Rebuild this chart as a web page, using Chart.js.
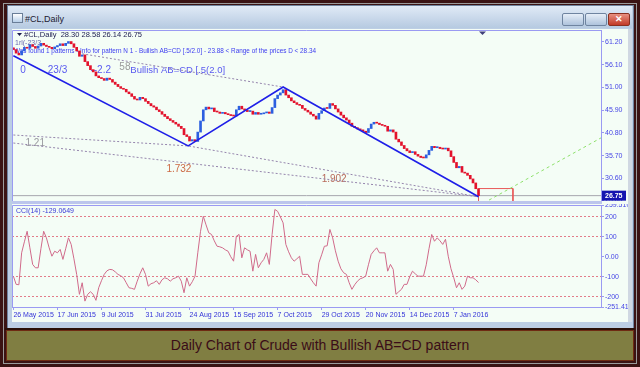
<!DOCTYPE html>
<html>
<head>
<meta charset="utf-8">
<script src="https://cdn.jsdelivr.net/npm/chart.js@4.4.1/dist/chart.umd.min.js"></script>
<style>
  body { margin: 0; width: 640px; height: 367px; background: #3a1313; position: relative; overflow: hidden; font-family: "Liberation Sans", Arial, sans-serif; }
  .abs { position: absolute; }
  #ring { left: 3px; top: 3px; width: 632px; height: 359px; border: 1px solid #9a9a9a; }
  #win { left: 7px; top: 5px; width: 625px; height: 322px; background: #bccee4; border: 1px solid #6f829c; }
  #title { left: 8px; top: 6px; width: 624px; height: 22px; background: linear-gradient(#e0eaf6, #b6cae1); }
  #icon { left: 12px; top: 13px; width: 9px; height: 8px; border: 1px solid #6a7e98; background: linear-gradient(#ffffff, #b8d0ea); }
  #ttl { left: 25px; top: 14px; font-size: 9px; color: #1c2030; }
  .btn { top: 13px; width: 20px; height: 11px; border: 1px solid #6f84a0; border-radius: 2px; background: linear-gradient(#e6eef8, #aec3dc); }
  #bclose { background: linear-gradient(#e89080, #c23a28); border-color: #8a3020; color: #fff; font-size: 9px; font-weight: bold; text-align: center; line-height: 11px; }
  #client { left: 12px; top: 29px; width: 616px; height: 293px; background: #f4fdf6; }
  #sep { left: 12px; top: 201px; width: 590px; height: 3px; background: #bcc6ec; }
  #scroll { left: 628px; top: 29px; width: 4px; height: 293px; background: #d0d8e2; }
  #botline { left: 5px; top: 328px; width: 630px; height: 2px; background: #2a1008; }
  #caption { left: 6px; top: 330px; width: 626px; height: 29px; background: #807e42; border: 1px solid #6e2a12;
             text-align: center; line-height: 29px; font-size: 14px; color: #3a0c18; }
  canvas { position: absolute; }
</style>
</head>
<body>
<div id="ring" class="abs"></div>
<div id="win" class="abs"></div>
<div id="title" class="abs"></div>
<div id="icon" class="abs"></div>
<div id="ttl" class="abs">#CL,Daily</div>
<div class="abs btn" style="left:562px"></div>
<div class="abs btn" style="left:585px"></div>
<div id="bclose" class="abs btn" style="left:608px">✕</div>
<div id="client" class="abs"></div>
<div id="scroll" class="abs"></div>
<canvas id="price" width="616" height="171" style="left:12px;top:30px"></canvas>
<div id="sep" class="abs"></div>
<canvas id="cci" width="616" height="118" style="left:12px;top:204px"></canvas>
<div id="botline" class="abs"></div>
<div id="caption" class="abs">Daily Chart of Crude with Bullish AB=CD pattern</div>

<script>
// dates shown under the CCI panel, one every 16 bars
const dateLabels = ["26 May 2015", "17 Jun 2015", "9 Jul 2015", "31 Jul 2015", "24 Aug 2015", "15 Sep 2015",
  "7 Oct 2015", "29 Oct 2015", "20 Nov 2015", "14 Dec 2015", "7 Jan 2016"];
const dateTickBars = [0, 16, 32, 48, 64, 80, 96, 112, 128, 144, 160];

// daily closes of #CL (last bar = 26.75)
const firstOpen = 59.9;
const closes = [
  59.5, 58.7, 58.3, 59.2, 60.0, 59.8, 60.6, 60.2, 59.8, 60.3,
  60.9, 60.5, 60.2, 60.0, 59.7, 60.1, 60.4, 60.8, 60.4, 60.9,
  61.3, 60.8, 60.0, 59.2, 58.0, 58.3, 56.8, 55.9, 55.0, 54.5,
  53.6, 53.2, 53.0, 52.6, 53.1, 52.8, 52.2, 51.7, 51.2, 50.8,
  50.6, 50.0, 49.6, 49.0, 48.4, 48.2, 48.8, 48.5, 47.9, 47.4,
  46.9, 46.6, 46.0, 45.6, 45.0, 44.5, 44.0, 43.6, 43.2, 42.8,
  42.3, 41.8, 40.4, 40.0, 39.0, 39.3, 38.9, 41.0, 43.5, 46.0,
  46.6, 46.2, 46.4, 45.6, 45.5, 45.2, 45.4, 45.1, 44.9, 44.7,
  44.6, 46.0, 46.8, 46.2, 45.9, 45.6, 45.7, 45.0, 45.4, 45.0,
  45.1, 45.3, 45.5, 45.2, 46.5, 48.5, 49.3, 49.8, 50.5, 49.3,
  48.7, 48.0, 47.6, 47.2, 47.0, 46.3, 45.9, 45.5, 45.0, 44.6,
  43.9, 45.2, 45.8, 46.4, 46.3, 47.4, 47.0, 46.2, 45.5, 44.8,
  44.2, 43.7, 43.0, 42.3, 42.0, 41.7, 41.5, 41.2, 40.9, 41.8,
  42.8, 43.2, 43.0, 42.7, 42.5, 42.3, 41.2, 41.5, 41.0, 39.4,
  38.8, 38.0, 37.3, 36.8, 36.4, 36.6, 36.0, 35.6, 35.3, 35.2,
  35.9, 36.9, 37.8, 37.5, 37.6, 37.3, 37.2, 37.4, 36.8, 35.5,
  34.2, 33.0, 33.3, 32.0, 31.8, 31.3, 30.5, 29.6, 28.3, 26.75
];
const lastOhlc = [28.30, 28.58, 26.14, 26.75];

// CCI(14), one value per bar
const cci = [
  -97, -138, -140, 20, 75, 128, 45, -38, -55, -55,
  40, 128, 95, 45, 3, 28, 20, 37, -13, 40,
  95, 62, -10, -88, -188, -130, -222, -188, -175, -188,
  -218, -155, -120, -88, -70, -63, -65, -75, -88, -95,
  -105, -130, -155, -158, -163, -122, -85, -55, -88, -147,
  -135, -130, -120, -138, -115, -105, -110, -122, -110, -105,
  -97, -122, -180, -105, -147, -125, -97, 20, 128, 203,
  160, 120, 112, 80, 53, 50, 45, 35, 28, 0,
  -22, 103, 112, -5, 45, 35, 28, -72, 12, -55,
  -30, -13, 20, -38, 112, 237, 228, 200, 170, 62,
  25, -5, -22, -10, 3, -88, -88, -88, -110, -130,
  -147, -30, 10, 53, 55, 137, 95, 30, -22, -60,
  -80, -88, -130, -163, -140, -122, -110, -105, -97, -40,
  12, 30, 45, 20, 20, 20, -72, -38, -63, -188,
  -175, -163, -138, -138, -100, -72, -85, -97, -97, -97,
  -40, 40, 112, 78, 95, 80, 62, 88, 3, -60,
  -105, -155, -130, -163, -147, -97, -105, -105, -115, -129.0649
];

const priceTicks = [61.20, 56.10, 51.00, 45.90, 40.80, 35.70, 30.60, 25.65];
const cciTicks = [259.5107, 200, 100, 0, -100, -200, -251.412];
const cciTickText = ["259.5107", "200", "100", "0.00", "-100", "-200", "-251.412"];
const cciLevels = [200, 100, -100, -200];

// AB=CD pattern points (bar, price)
const patternBars = [0, 63.5, 98, 169];
const patternPrices = [58.1, 37.9, 51.1, 26.5];
// dotted ratio lines
const guideABars = [23.6, 98];
const guideAPrices = [58.7, 51.1];
const guideBBars = [0, 63.5, 169];
const guideBPrices = [40.35, 37.9, 26.5];
const guideCBars = [0, 169];
const guideCPrices = [38.55, 26.5];
const projBars = [170.9, 213.5];
const projPrices = [25.1, 39.7];
// range of the prices for D
const dBars = [169, 181.5];
const dRange = [23.88, 28.34];

const opens = [firstOpen].concat(closes.slice(0, -1));
const candles = closes.map((c, i) => ({ x: i, y: [opens[i], c] }));
const candleColors = closes.map((c, i) => (c >= opens[i] ? "#2c5fe0" : "#e3122c"));
const pts = (xs, ys) => xs.map((x, i) => ({ x, y: ys[i] }));
const lastBar = closes.length - 1;

const FONT = '"Liberation Sans", Arial, sans-serif';
const AXIS = "#9a9af2";
const X_MIN = -0.5, X_MAX = 213.5;

const notes = [
  { text: "0", bar: 2.5, price: 54.9, color: "#5a5af0", size: 10 },
  { text: "23/3", bar: 12.5, price: 54.9, color: "#5a5af0", size: 10 },
  { text: "--2.2", bar: 28, price: 54.9, color: "#5a5af0", size: 10 },
  { text: "58", bar: 38.5, price: 55.5, color: "#9a9a9a", size: 10 },
  { text: "Bullish AB=CD [.5(2.0]", bar: 42.5, price: 54.9, color: "#5a5af0", size: 9.5 },
  { text: "1.21", bar: 4.4, price: 38.55, color: "#9a9aa0", size: 10 },
  { text: "1.732", bar: 55.6, price: 32.7, color: "#cc6a44", size: 10 },
  { text: "1.902", bar: 112, price: 30.5, color: "#b86a5a", size: 10 }
];
const patternInfo = "Was found 1 patterns - Info for pattern N 1 - Bullish AB=CD [.5/2.0] - " +
  dRange[0] + " < Range of the prices D < " + dRange[1];

const priceDecor = {
  id: "priceDecor",
  beforeDatasetsDraw(chart) {
    const { ctx, scales: { x, y } } = chart;
    ctx.save();
    ctx.textBaseline = "middle";
    ctx.font = "7px " + FONT;
    ctx.fillStyle = "#3c3cf0";
    ctx.fillText(patternInfo, 2, 21, 302);
    ctx.fillStyle = "#6a6ab0";
    ctx.fillText("1rl(-23/3", 3, 13);
    notes.forEach(n => {
      ctx.font = n.size + "px " + FONT;
      ctx.fillStyle = n.color;
      ctx.fillText(n.text, x.getPixelForValue(n.bar), y.getPixelForValue(n.price));
    });
    ctx.restore();
  },
  afterDraw(chart) {
    const { ctx, chartArea: a, scales: { y } } = chart;
    ctx.save();
    // frame
    ctx.strokeStyle = AXIS;
    ctx.lineWidth = 1;
    ctx.beginPath();
    ctx.moveTo(a.left + 0.5, a.bottom);
    ctx.lineTo(a.left + 0.5, a.top + 0.5);
    ctx.lineTo(a.right, a.top + 0.5);
    ctx.stroke();
    // header
    ctx.fillStyle = "#1a1a4e";
    ctx.beginPath();
    ctx.moveTo(5, 3); ctx.lineTo(10, 3); ctx.lineTo(7.5, 6); ctx.closePath(); ctx.fill();
    ctx.font = "7.5px " + FONT;
    ctx.textBaseline = "middle";
    ctx.fillText("#CL,Daily  " + lastOhlc.map(v => v.toFixed(2)).join(" "), 12, 4.5);
    // shift marker
    ctx.fillStyle = "#40407a";
    ctx.beginPath();
    ctx.moveTo(467, 1.5); ctx.lineTo(474, 1.5); ctx.lineTo(470.5, 5); ctx.closePath(); ctx.fill();
    // bid label
    const yp = y.getPixelForValue(closes[lastBar]);
    ctx.fillStyle = "#1414b0";
    ctx.fillRect(a.right + 1, yp - 5, 24, 10);
    ctx.fillStyle = "#ffffff";
    ctx.font = "bold 7px " + FONT;
    ctx.fillText(closes[lastBar].toFixed(2), a.right + 4, yp);
    ctx.restore();
  }
};

const cciDecor = {
  id: "cciDecor",
  afterDraw(chart) {
    const { ctx, chartArea: a } = chart;
    ctx.save();
    ctx.strokeStyle = AXIS;
    ctx.beginPath();
    ctx.moveTo(a.left + 0.5, a.bottom);
    ctx.lineTo(a.left + 0.5, a.top + 0.5);
    ctx.lineTo(a.right, a.top + 0.5);
    ctx.stroke();
    ctx.fillStyle = "#3a3ad8";
    ctx.font = "7px " + FONT;
    ctx.textBaseline = "middle";
    ctx.fillText("CCI(14) " + cci[lastBar].toFixed(4), 4, a.top + 6);
    ctx.restore();
  }
};

const fitY = s => { s.width = 27; s.paddingTop = 0; s.paddingBottom = 0; };
const lineDs = (data, color, width, dash, order) => ({
  type: "line", data, borderColor: color, borderWidth: width, borderDash: dash,
  pointRadius: 0, fill: false, tension: 0, order
});

new Chart(document.getElementById("price"), {
  type: "bar",
  data: {
    datasets: [
      lineDs(pts(patternBars, patternPrices), "#1f1fe8", 1.6, [], 0),
      { data: candles, backgroundColor: candleColors, barThickness: 2, minBarLength: 1, order: 1 },
      lineDs(pts(guideABars, guideAPrices), "#9484ac", 1, [2, 2], 2),
      lineDs(pts(guideBBars, guideBPrices), "#9484ac", 1, [2, 2], 2),
      lineDs(pts(guideCBars, guideCPrices), "#9484ac", 1, [2, 2], 2),
      lineDs(pts(projBars, projPrices), "#8ee06c", 1, [3, 3], 2),
      lineDs(pts([dBars[0], dBars[0], dBars[1], dBars[1]], [dRange[0], dRange[1], dRange[1], dRange[0]]), "#e85a5a", 1, [], 2),
      lineDs(pts([X_MIN, X_MAX], [closes[lastBar], closes[lastBar]]), "#a6a6ae", 1, [], 3)
    ]
  },
  options: {
    responsive: false,
    animation: false,
    events: [],
    layout: { padding: 0 },
    plugins: { legend: { display: false }, tooltip: { enabled: false } },
    scales: {
      x: { type: "linear", min: X_MIN, max: X_MAX, offset: false, display: false },
      y: {
        position: "right", min: 25.55, max: 63.89,
        afterBuildTicks: s => { s.ticks = priceTicks.map(v => ({ value: v })); },
        afterFit: fitY,
        ticks: { color: "#4646e6", font: { size: 7, family: FONT }, padding: 1, callback: v => v.toFixed(2) },
        grid: { drawOnChartArea: false, tickLength: 3, color: AXIS },
        border: { color: AXIS }
      }
    }
  },
  plugins: [priceDecor]
});

new Chart(document.getElementById("cci"), {
  type: "line",
  data: {
    datasets: [{
      data: cci.map((v, i) => ({ x: i, y: v })),
      borderColor: "#d06a8a", borderWidth: 1, pointRadius: 0, tension: 0, fill: false
    }]
  },
  options: {
    responsive: false,
    animation: false,
    events: [],
    layout: { padding: { top: 1 } },
    plugins: { legend: { display: false }, tooltip: { enabled: false } },
    scales: {
      x: {
        type: "linear", min: X_MIN, max: X_MAX,
        afterBuildTicks: s => { s.ticks = dateTickBars.map(v => ({ value: v })); },
        afterFit: s => { s.height = 15; s.paddingLeft = 0; s.paddingRight = 0; },
        ticks: {
          color: "#3434d8", font: { size: 7, family: FONT }, padding: 1, align: "start",
          maxRotation: 0, autoSkip: false, callback: v => dateLabels[dateTickBars.indexOf(v)]
        },
        grid: { drawOnChartArea: false, tickLength: 3, color: AXIS },
        border: { color: AXIS }
      },
      y: {
        position: "right", min: -251.412, max: 259.5107,
        afterBuildTicks: s => { s.ticks = cciTicks.map(v => ({ value: v })); },
        afterFit: fitY,
        ticks: {
          color: "#4646e6", font: { size: 7, family: FONT }, padding: 1,
          callback: v => cciTickText[cciTicks.indexOf(v)]
        },
        grid: {
          tickLength: 3, tickColor: AXIS,
          color: c => (c.tick && cciLevels.includes(c.tick.value) ? "#e27c8a" : "rgba(0,0,0,0)")
        },
        border: { color: AXIS, dash: [2, 2] }
      }
    }
  },
  plugins: [cciDecor]
});
</script>
</body>
</html>
